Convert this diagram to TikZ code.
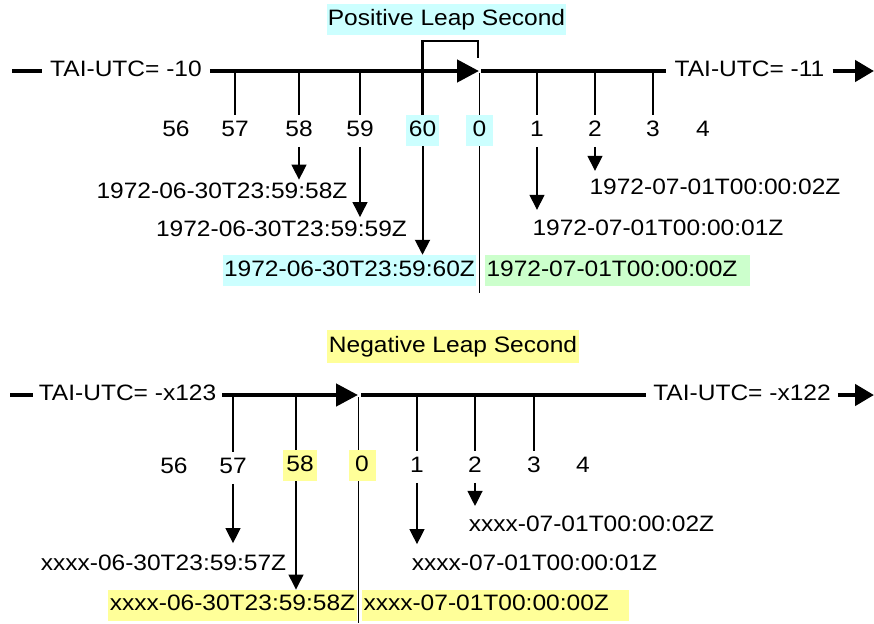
\documentclass[tikz,border=0pt]{standalone}
\usepackage{fontspec}
\setmainfont{Liberation Sans}[FakeStretch=1.10]
\usepackage{tikz}
\usetikzlibrary{arrows.meta}
\definecolor{cian}{HTML}{CCFFFF}
\definecolor{verde}{HTML}{CCFFCC}
\definecolor{amarillo}{HTML}{FFFF99}

\begin{document}
\begin{tikzpicture}[x=1pt, y=-1pt,
      font=\fontsize{22.3}{25}\selectfont,
      texto/.style={inner xsep=2pt, inner ysep=5.2pt, text height=16pt, text depth=4.7pt},
      caja/.style={texto, fill=#1, inner xsep=3pt, minimum width=27pt},
      fecha/.style={texto, inner xsep=1.5pt, inner ysep=3pt},
      fechab/.style={fecha, inner ysep=5.2pt, fill=#1},
      rotulo/.style={texto, inner xsep=8pt},
      eje/.style={draw=black, line width=4.5pt},
      punta/.style={eje, -{Triangle[length=22pt, width=22pt]}},
      flechafin/.style={eje, -{Triangle[length=19pt, width=21pt]}},
      tic/.style={draw=black, line width=1.2pt},
      flecha/.style={tic, -{Triangle[length=15pt, width=15pt]}},
      corte/.style={draw=black, line width=0.8pt},
      corchete/.style={draw=black, line width=2.4pt}]

    \useasboundingbox (0,0) rectangle (874,623);

    % positive leap second
    \coordinate (inicioA) at (12,71);
    \coordinate (saltoA) at (479,71);
    \coordinate (topeA) at (478,58);
    \coordinate (finA) at (874,71);
    \coordinate (corteA) at (479,73);
    \coordinate (baseA) at (479,293);
    \draw[corte] (corteA) -- (baseA);

    \node[caja=cian, inner xsep=1pt] (posit) at (446.5,19.5) {Positive Leap Second};
    \node[rotulo] (izqA) at (126,71) {TAI-UTC= -10};
    \node[rotulo] (derA) at (749.5,71) {TAI-UTC= -11};

    \node[texto] (a56) at (176,131) {56};
    \node[texto] (a57) at (235,131) {57};
    \node[texto] (a58) at (299,131) {58};
    \node[texto] (a59) at (360,131) {59};
    \node[caja=cian] (a60) at (422.5,130.5) {60};
    \node[caja=cian] (a0) at (479.5,130.5) {0};
    \node[texto] (a1) at (537,131) {1};
    \node[texto] (a2) at (595,131) {2};
    \node[texto] (a3) at (653,131) {3};
    \node[texto] (a4) at (703,131) {4};

    \node[fecha] (f58) at (222,193.2) {1972-06-30T23:59:58Z};
    \node[fecha] (f59) at (281.5,230.6) {1972-06-30T23:59:59Z};
    \node[fechab=cian] (f60) at (349.5,270.5) {1972-06-30T23:59:60Z};
    \node[fechab=verde, text width=262pt, align=left] (f00) at (617.5,270.5) {1972-07-01T00:00:00Z};
    \node[fecha] (f01) at (658,229.4) {1972-07-01T00:00:01Z};
    \node[fecha] (f02) at (715,188.4) {1972-07-01T00:00:02Z};

    \draw[eje] (inicioA) -- (izqA.west);
    \draw[punta] (izqA.east) -- (saltoA);
    \draw[eje] ([xshift=2pt]saltoA) -- (derA.west);
    \draw[flechafin] (derA.east) -- (finA);

    \draw[tic] (saltoA -| a57.north) -- (a57.north);
    \draw[tic] (saltoA -| a58.north) -- (a58.north);
    \draw[tic] (saltoA -| a59.north) -- (a59.north);
    \draw[tic] (saltoA -| a1.north) -- (a1.north);
    \draw[tic] (saltoA -| a2.north) -- (a2.north);
    \draw[tic] (saltoA -| a3.north) -- (a3.north);
    \draw[corchete] (a60.north) -- ++(0,-74) -| (topeA);

    \draw[flecha] (a58.south) -- (a58.south |- f58.north);
    \draw[flecha] (a59.south) -- (a59.south |- f59.north);
    \draw[flecha, line width=2pt] (a60.south) -- (a60.south |- f60.north);
    \draw[flecha, shorten >=6pt] (a1.south) -- (a1.south |- f01.north);
    \draw[flecha, shorten >=4pt] (a2.south) -- (a2.south |- f02.north);

    % negative leap second
    \coordinate (inicioB) at (10,395);
    \coordinate (saltoB) at (358,395);
    \coordinate (finB) at (874,395);
    \coordinate (corteB) at (358,397);
    \coordinate (baseB) at (358,623);
    \draw[corte] (corteB) -- (baseB);

    \node[caja=amarillo, inner xsep=2pt, minimum height=33pt] (negat) at (453,346.7) {Negative Leap Second};
    \node[rotulo, inner xsep=6pt] (izqB) at (127.5,395) {TAI-UTC= -x123};
    \node[rotulo, inner xsep=7pt] (derB) at (742,395) {TAI-UTC= -x122};

    \node[texto] (b56) at (174,468) {56};
    \node[texto] (b57) at (233,468) {57};
    \node[caja=amarillo] (b58) at (300,465.5) {58};
    \node[caja=amarillo] (b0) at (362,465.5) {0};
    \node[texto] (b1) at (417,467) {1};
    \node[texto] (b2) at (475,467) {2};
    \node[texto] (b3) at (534,467) {3};
    \node[texto] (b4) at (583,467) {4};

    \node[fecha] (g57) at (163.5,564.7) {xxxx-06-30T23:59:57Z};
    \node[fechab=amarillo] (g58) at (232.5,605.3) {xxxx-06-30T23:59:58Z};
    \node[fechab=amarillo, text width=264pt, align=left] (g00) at (495.5,605.3) {xxxx-07-01T00:00:00Z};
    \node[fecha] (g01) at (534.5,564.7) {xxxx-07-01T00:00:01Z};
    \node[fecha] (g02) at (591.5,525.5) {xxxx-07-01T00:00:02Z};

    \draw[eje] (inicioB) -- (izqB.west);
    \draw[punta] (izqB.east) -- (saltoB);
    \draw[eje] ([xshift=3pt]saltoB) -- (derB.west);
    \draw[flechafin] (derB.east) -- (finB);

    \draw[tic] (saltoB -| b57.north) -- (b57.north);
    \draw[tic] ([xshift=-4pt]b58.north |- saltoB) -- ([xshift=-4pt]b58.north);
    \draw[tic] (saltoB -| b1.north) -- (b1.north);
    \draw[tic] (saltoB -| b2.north) -- (b2.north);
    \draw[tic] (saltoB -| b3.north) -- (b3.north);

    \draw[flecha, shorten >=8pt] (b57.south) -- (b57.south |- g57.north);
    \draw[flecha] ([xshift=-4pt]b58.south) -- ([xshift=-4pt]b58.south |- g58.north);
    \draw[flecha, shorten >=7pt] (b1.south) -- (b1.south |- g01.north);
    \draw[flecha, shorten >=6pt] (b2.south) -- (b2.south |- g02.north);
  \end{tikzpicture}
\end{document}
